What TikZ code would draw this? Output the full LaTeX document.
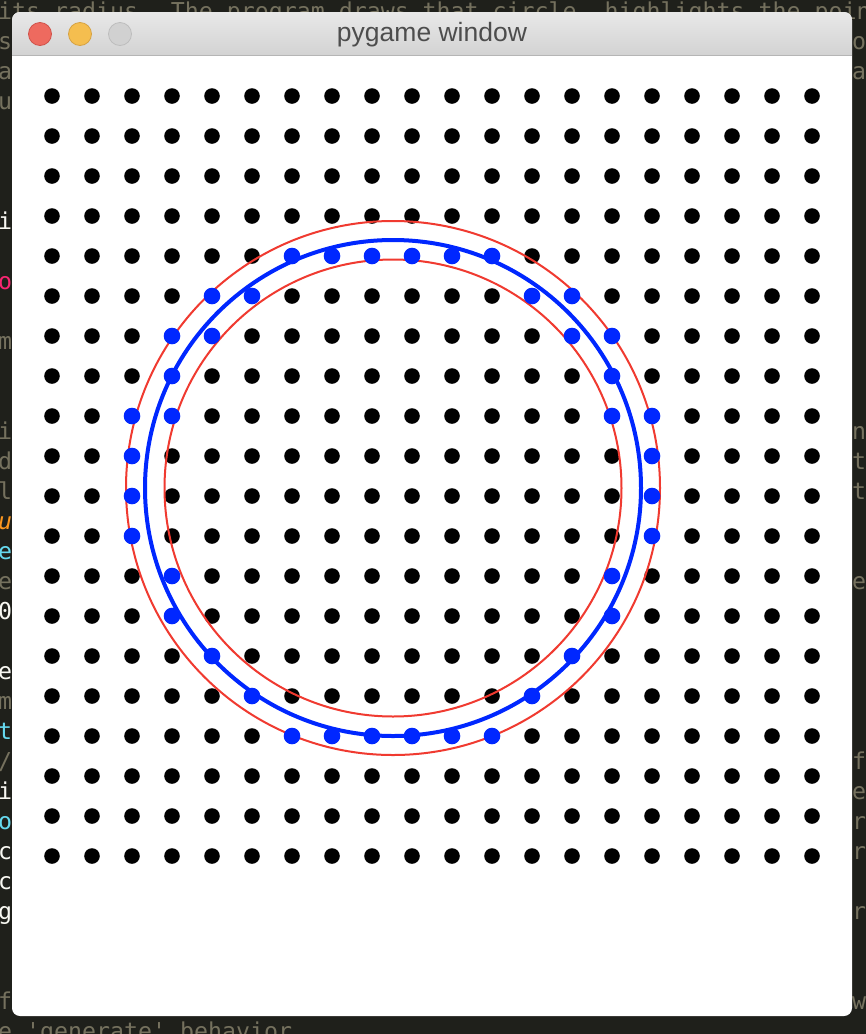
\documentclass[tikz,border=0pt]{standalone}
\usepackage{fontspec}
\newfontfamily\codefont{DejaVu Sans Mono}
\newfontfamily\titlefont{Liberation Sans}
\definecolor{bgdark}{HTML}{1F201B}
\definecolor{cw}{HTML}{F8F8F2}
\definecolor{cg}{HTML}{75715E}
\definecolor{cp}{HTML}{F92672}
\definecolor{cc}{HTML}{66D9EF}
\definecolor{co}{HTML}{FD971F}
\definecolor{dotblue}{HTML}{0027FF}
\definecolor{ringred}{HTML}{F03A30}
\definecolor{tbtop}{HTML}{E8E8E8}
\definecolor{tbbot}{HTML}{D3D3D3}
\definecolor{tbline}{HTML}{B5B5B5}
\definecolor{titlegray}{HTML}{4D4D4D}
\definecolor{lred}{HTML}{EE6A5F}
\definecolor{lredb}{HTML}{D0524A}
\definecolor{lyel}{HTML}{F5BE4F}
\definecolor{lyelb}{HTML}{D6A243}
\definecolor{lgray}{HTML}{D1D1D1}
\definecolor{lgrayb}{HTML}{BDBDBD}
\tikzset{
  codetxt/.style={inner sep=0pt, anchor=base west, font=\codefont\fontsize{23.25}{30}\selectfont},
  griddot/.style={fill=black},
  hitdot/.style={fill=dotblue},
  ringline/.style={draw=ringred, line width=2pt},
  blueline/.style={draw=dotblue, line width=4pt},
  light/.style={line width=0.8pt}
}
\newcommand{\codech}[4]{\node[codetxt, text=#3] (ch-#1-#2) at ({-2+14*#1},{19.3+30*#2}) {#4};}
\begin{document}
\begin{tikzpicture}[x=1pt,y=-1pt]
\useasboundingbox (0,0) rectangle (866,1034);
\fill[bgdark] (0,0) rectangle (866,1034);
% background code text
\node[codetxt, text=cg] (line0) at (-2,19.3) {its radius. The program draws that circle, highlights the poin};
\codech{0}{1}{cg}{s}
\codech{61}{1}{cg}{o}
\codech{0}{2}{cg}{a}
\codech{61}{2}{cg}{a}
\codech{0}{3}{cg}{u}
\codech{0}{7}{cw}{i}
\codech{0}{9}{cp}{o}
\codech{0}{11}{cg}{m}
\codech{0}{14}{cg}{i}
\codech{0}{15}{cg}{d}
\codech{0}{16}{cg}{l}
\node[codetxt, text=co, font=\codefont\itshape\fontsize{23.25}{30}\selectfont] (ch-0-17) at (-2,{19.3+30*17}) {u};
\codech{0}{18}{cc}{e}
\codech{0}{19}{cg}{e}
\codech{0}{20}{cw}{0}
\codech{0}{22}{cw}{e}
\codech{0}{23}{cg}{m}
\codech{0}{24}{cc}{t}
\codech{0}{25}{cg}{/}
\codech{0}{26}{cw}{i}
\codech{0}{27}{cc}{o}
\codech{0}{28}{cw}{c}
\codech{0}{29}{cw}{c}
\codech{0}{30}{cw}{g}
\codech{0}{33}{cg}{f}
\node[codetxt, text=cg] (line34) at (-2,{19.3+30*34}) {e 'generate' behavior};
\codech{61}{14}{cg}{n}
\codech{61}{15}{cg}{t}
\codech{61}{16}{cg}{t}
\codech{61}{19}{cg}{e}
\codech{61}{25}{cg}{f}
\codech{61}{26}{cg}{e}
\codech{61}{27}{cg}{r}
\codech{61}{28}{cg}{r}
\codech{61}{30}{cg}{r}
\codech{61}{33}{cg}{w}
% window
\fill[white, rounded corners=8pt] (12,12) rectangle (852,1016);
\begin{scope}
  \clip[rounded corners=8pt] (12,12) rectangle (852,1016);
  \shade[top color=tbtop, bottom color=tbbot] (12,12) rectangle (852,55);
\end{scope}
\draw[tbline, line width=1pt] (12,55.5) -- (852,55.5);
\filldraw[fill=lred, draw=lredb, light] (40,34) circle (11.5pt);
\filldraw[fill=lyel, draw=lyelb, light] (80,34) circle (11.5pt);
\filldraw[fill=lgray, draw=lgrayb, light] (120,34) circle (11.5pt);
\node[text=titlegray, font=\titlefont\fontsize{26.5}{30}\selectfont, inner sep=0pt] (title) at (432,35) {pygame window};
% grid of dots
\foreach \i in {0,...,19}{
  \foreach \j in {0,...,19}{
    \fill[griddot] ({52+40*\i},{96+40*\j}) circle (7.8pt);
  }
}
% rings
\draw[ringline] (393,488) circle (267pt);
\draw[ringline] (393,488) circle (228.5pt);
\draw[blueline] (393,488) circle (248pt);
% highlighted dots
\foreach \p in {
  (292,256),(332,256),(372,256),(412,256),(452,256),(492,256),
  (212,296),(252,296),(532,296),(572,296),
  (172,336),(212,336),(572,336),(612,336),
  (172,376),(612,376),
  (132,416),(172,416),(612,416),(652,416),
  (132,456),(652,456),
  (132,496),(652,496),
  (132,536),(652,536),
  (172,576),(612,576),
  (172,616),(612,616),
  (212,656),(572,656),
  (252,696),(532,696),
  (292,736),(332,736),(372,736),(412,736),(452,736),(492,736)}{
  \fill[hitdot] \p circle (8.3pt);
}
\end{tikzpicture}
\end{document}
